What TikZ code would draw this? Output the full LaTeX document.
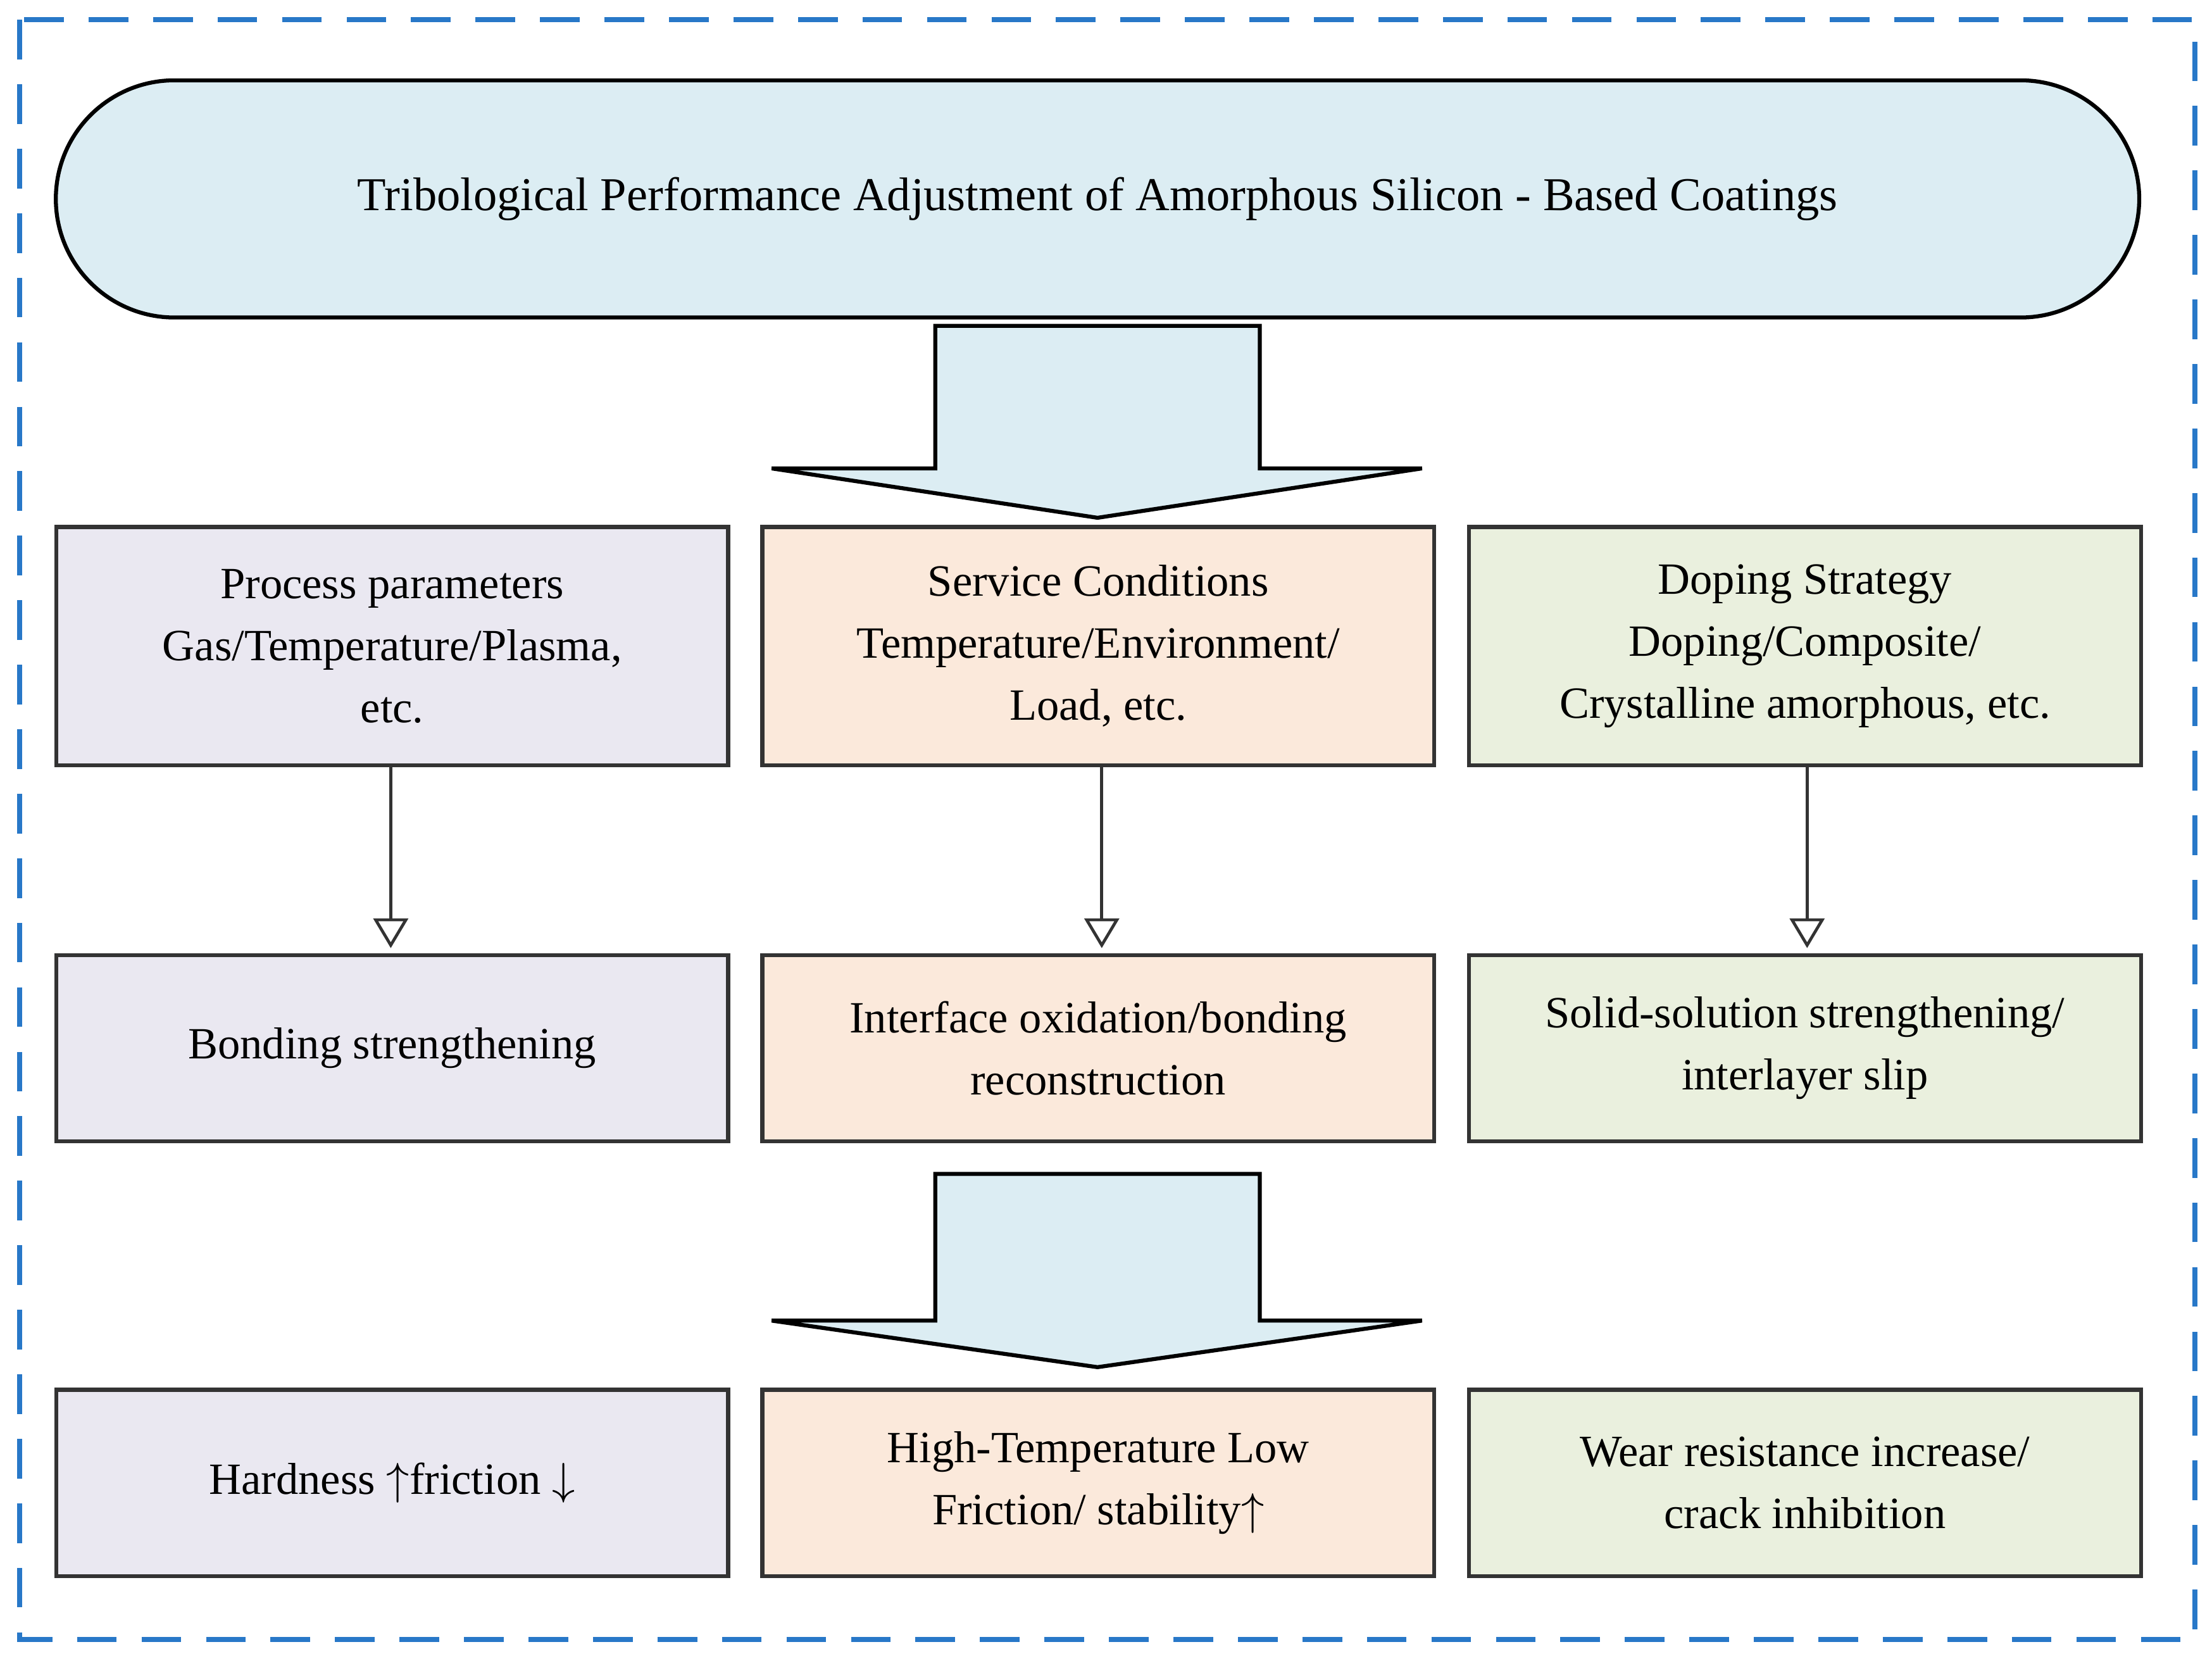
\documentclass[tikz,border=0pt]{standalone}
\usepackage{fontspec}
\setmainfont{Liberation Serif}
\usetikzlibrary{arrows.meta}
\definecolor{bord}{RGB}{40,120,200}
\definecolor{topc}{RGB}{220,237,243}
\definecolor{lav}{RGB}{234,232,241}
\definecolor{pea}{RGB}{251,233,219}
\definecolor{grn}{RGB}{234,240,222}
\definecolor{arr}{RGB}{220,237,243}
\begin{document}
\begin{tikzpicture}[x=0.01cm,y=-0.01cm,
 box/.style={draw=black!80,line width=0.8pt,minimum width=4.76cm,align=center,font=\fontsize{9}{12.5}\selectfont,inner sep=0pt},
 r1/.style={box,minimum height=1.69cm},
 r2/.style={box,minimum height=1.32cm},
 con/.style={draw=black!80,line width=0.6pt,-{Triangle[open,length=6pt,width=7pt]}},
 big/.style={fill=arr,draw=black,line width=0.8pt}]
\useasboundingbox (0,0) rectangle (1568,1177);
\draw[bord,dashed,dash pattern=on 8pt off 5pt,line width=1pt] (14,14) rectangle (1556,1162);
\node[draw=black,fill=topc,line width=0.8pt,rounded corners=0.84cm,minimum width=14.76cm,minimum height=1.68cm,font=\fontsize{9.5}{12}\selectfont] (top) at (778,141) {Tribological Performance Adjustment of Amorphous Silicon - Based Coatings};
\draw[big] (663,231) -- (893,231) -- (893,332) -- (1008,332) -- (778,367) -- (547,332) -- (663,332) -- cycle;
\node[r1,fill=lav] (a1) at (278,458) {Process parameters\\Gas/Temperature/Plasma,\\etc.};
\node[r1,fill=pea] (b1) at (778.5,458) {Service Conditions\\Temperature/Environment/\\Load, etc.};
\node[r1,fill=grn] (c1) at (1279.5,458) {Doping Strategy\\Doping/Composite/\\Crystalline amorphous, etc.};
\node[r2,fill=lav] (a2) at (278,743) {Bonding strengthening};
\node[r2,fill=pea] (b2) at (778.5,743) {Interface oxidation/bonding\\reconstruction};
\node[r2,fill=grn] (c2) at (1279.5,743) {Solid-solution strengthening/\\interlayer slip};
\draw[con] (a1.south -| 277,0) -- (277,672);
\draw[con] (b1.south -| 781,0) -- (781,672);
\draw[con] (c1.south -| 1281,0) -- (1281,672);
\draw[big] (663,832) -- (893,832) -- (893,936) -- (1008,936) -- (778,969) -- (547,936) -- (663,936) -- cycle;
\node[r2,fill=lav] (a3) at (278,1051) {Hardness $\uparrow$friction $\downarrow$};
\node[r2,fill=pea] (b3) at (778.5,1051) {High-Temperature Low\\Friction/ stability$\uparrow$};
\node[r2,fill=grn] (c3) at (1279.5,1051) {Wear resistance increase/\\crack inhibition};
\end{tikzpicture}
\end{document}
